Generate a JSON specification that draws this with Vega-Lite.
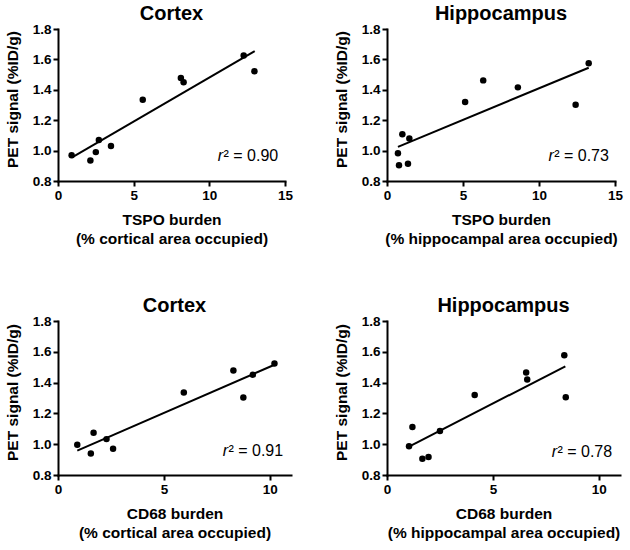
{
  "$schema": "https://vega.github.io/schema/vega-lite/v6.json",
  "background": "white",
  "padding": {"left": 5, "top": 4, "right": 5, "bottom": 5},
  "datasets": {
    "p1": [
      {"x": 0.9, "y": 0.97}, {"x": 2.14, "y": 0.935}, {"x": 2.5, "y": 0.99}, {"x": 2.7, "y": 1.07},
      {"x": 3.5, "y": 1.03}, {"x": 5.6, "y": 1.335}, {"x": 8.12, "y": 1.477}, {"x": 8.3, "y": 1.45},
      {"x": 12.27, "y": 1.625}, {"x": 12.98, "y": 1.522}
    ],
    "l1": [{"x": 0.93, "y": 0.955}, {"x": 13.0, "y": 1.655}],
    "p2": [
      {"x": 0.72, "y": 0.982}, {"x": 0.79, "y": 0.904}, {"x": 1.01, "y": 1.108}, {"x": 1.38, "y": 0.914},
      {"x": 1.47, "y": 1.079}, {"x": 5.14, "y": 1.319}, {"x": 6.33, "y": 1.462}, {"x": 8.61, "y": 1.416},
      {"x": 12.41, "y": 1.301}, {"x": 13.27, "y": 1.574}
    ],
    "l2": [{"x": 0.72, "y": 1.025}, {"x": 13.27, "y": 1.545}],
    "p3": [
      {"x": 0.91, "y": 0.997}, {"x": 1.55, "y": 0.94}, {"x": 1.68, "y": 1.074}, {"x": 2.29, "y": 1.033},
      {"x": 2.6, "y": 0.971}, {"x": 5.94, "y": 1.336}, {"x": 8.28, "y": 1.478}, {"x": 8.75, "y": 1.303},
      {"x": 9.2, "y": 1.451}, {"x": 10.22, "y": 1.524}
    ],
    "l3": [{"x": 0.91, "y": 0.958}, {"x": 10.22, "y": 1.516}],
    "p4": [
      {"x": 1.04, "y": 0.986}, {"x": 1.2, "y": 1.111}, {"x": 1.67, "y": 0.906}, {"x": 1.96, "y": 0.917},
      {"x": 2.5, "y": 1.085}, {"x": 4.14, "y": 1.32}, {"x": 6.57, "y": 1.465}, {"x": 6.62, "y": 1.42},
      {"x": 8.37, "y": 1.578}, {"x": 8.44, "y": 1.305}
    ],
    "l4": [{"x": 1.04, "y": 0.984}, {"x": 8.42, "y": 1.506}]
  },
  "columns": 2,
  "bounds": "flush",
  "spacing": {"row": 140, "column": 96},
  "concat": [
    {
      "width": 227, "height": 152,
      "title": "Cortex",
      "layer": [
        {"data": {"name": "p1"}, "mark": {"type": "point", "filled": true, "size": 42, "color": "black", "opacity": 1},
         "encoding": {
           "x": {"field": "x", "type": "quantitative", "scale": {"domain": [0, 15], "nice": false},
                 "axis": {"values": [0, 5, 10, 15], "format": "d", "labelOverlap": false, "title": ["TSPO burden", "(% cortical area occupied)"]}},
           "y": {"field": "y", "type": "quantitative", "scale": {"domain": [0.8, 1.8], "nice": false, "zero": false},
                 "axis": {"values": [0.8, 1.0, 1.2, 1.4, 1.6, 1.8], "tickCount": 20, "labelOverlap": false, "format": ".1f", "titleY": 70, "title": "PET signal (%ID/g)"}}}},
        {"data": {"name": "l1"}, "mark": {"type": "line", "color": "black", "strokeWidth": 2},
         "encoding": {"x": {"field": "x", "type": "quantitative"}, "y": {"field": "y", "type": "quantitative"}}},
        {"data": {"values": [{"t": "² = 0.90"}]}, "mark": {"type": "text", "align": "right", "baseline": "alphabetic", "font": "Liberation Sans", "fontSize": 16, "color": "black"},
         "encoding": {"x": {"datum": 14.55}, "y": {"datum": 0.93}, "text": {"field": "t"}}},
        {"data": {"values": [{"t": "r"}]}, "mark": {"type": "text", "align": "right", "baseline": "alphabetic", "font": "Liberation Sans", "fontSize": 16, "fontStyle": "italic", "color": "black", "dx": -55},
         "encoding": {"x": {"datum": 14.55}, "y": {"datum": 0.93}, "text": {"field": "t"}}}
      ]
    },
    {
      "width": 228, "height": 152,
      "title": "Hippocampus",
      "layer": [
        {"data": {"name": "p2"}, "mark": {"type": "point", "filled": true, "size": 42, "color": "black", "opacity": 1},
         "encoding": {
           "x": {"field": "x", "type": "quantitative", "scale": {"domain": [0, 15], "nice": false},
                 "axis": {"values": [0, 5, 10, 15], "format": "d", "labelOverlap": false, "title": ["TSPO burden", "(% hippocampal area occupied)"]}},
           "y": {"field": "y", "type": "quantitative", "scale": {"domain": [0.8, 1.8], "nice": false, "zero": false},
                 "axis": {"values": [0.8, 1.0, 1.2, 1.4, 1.6, 1.8], "tickCount": 20, "labelOverlap": false, "format": ".1f", "titleY": 70, "title": "PET signal (%ID/g)"}}}},
        {"data": {"name": "l2"}, "mark": {"type": "line", "color": "black", "strokeWidth": 2},
         "encoding": {"x": {"field": "x", "type": "quantitative"}, "y": {"field": "y", "type": "quantitative"}}},
        {"data": {"values": [{"t": "² = 0.73"}]}, "mark": {"type": "text", "align": "right", "baseline": "alphabetic", "font": "Liberation Sans", "fontSize": 16, "color": "black"},
         "encoding": {"x": {"datum": 14.6}, "y": {"datum": 0.93}, "text": {"field": "t"}}},
        {"data": {"values": [{"t": "r"}]}, "mark": {"type": "text", "align": "right", "baseline": "alphabetic", "font": "Liberation Sans", "fontSize": 16, "fontStyle": "italic", "color": "black", "dx": -55},
         "encoding": {"x": {"datum": 14.6}, "y": {"datum": 0.93}, "text": {"field": "t"}}}
      ]
    },
    {
      "width": 233, "height": 154,
      "title": "Cortex",
      "layer": [
        {"data": {"name": "p3"}, "mark": {"type": "point", "filled": true, "size": 42, "color": "black", "opacity": 1},
         "encoding": {
           "x": {"field": "x", "type": "quantitative", "scale": {"domain": [0, 11], "nice": false},
                 "axis": {"values": [0, 5, 10], "format": "d", "labelOverlap": false, "title": ["CD68 burden", "(% cortical area occupied)"]}},
           "y": {"field": "y", "type": "quantitative", "scale": {"domain": [0.8, 1.8], "nice": false, "zero": false},
                 "axis": {"values": [0.8, 1.0, 1.2, 1.4, 1.6, 1.8], "tickCount": 20, "labelOverlap": false, "format": ".1f", "titleY": 71, "title": "PET signal (%ID/g)"}}}},
        {"data": {"name": "l3"}, "mark": {"type": "line", "color": "black", "strokeWidth": 2},
         "encoding": {"x": {"field": "x", "type": "quantitative"}, "y": {"field": "y", "type": "quantitative"}}},
        {"data": {"values": [{"t": "² = 0.91"}]}, "mark": {"type": "text", "align": "right", "baseline": "alphabetic", "font": "Liberation Sans", "fontSize": 16, "color": "black"},
         "encoding": {"x": {"datum": 10.63}, "y": {"datum": 0.926}, "text": {"field": "t"}}},
        {"data": {"values": [{"t": "r"}]}, "mark": {"type": "text", "align": "right", "baseline": "alphabetic", "font": "Liberation Sans", "fontSize": 16, "fontStyle": "italic", "color": "black", "dx": -55},
         "encoding": {"x": {"datum": 10.63}, "y": {"datum": 0.926}, "text": {"field": "t"}}}
      ]
    },
    {
      "width": 233, "height": 154,
      "title": "Hippocampus",
      "layer": [
        {"data": {"name": "p4"}, "mark": {"type": "point", "filled": true, "size": 42, "color": "black", "opacity": 1},
         "encoding": {
           "x": {"field": "x", "type": "quantitative", "scale": {"domain": [0, 11], "nice": false},
                 "axis": {"values": [0, 5, 10], "format": "d", "labelOverlap": false, "title": ["CD68 burden", "(% hippocampal area occupied)"]}},
           "y": {"field": "y", "type": "quantitative", "scale": {"domain": [0.8, 1.8], "nice": false, "zero": false},
                 "axis": {"values": [0.8, 1.0, 1.2, 1.4, 1.6, 1.8], "tickCount": 20, "labelOverlap": false, "format": ".1f", "titleY": 71, "title": "PET signal (%ID/g)"}}}},
        {"data": {"name": "l4"}, "mark": {"type": "line", "color": "black", "strokeWidth": 2},
         "encoding": {"x": {"field": "x", "type": "quantitative"}, "y": {"field": "y", "type": "quantitative"}}},
        {"data": {"values": [{"t": "² = 0.78"}]}, "mark": {"type": "text", "align": "right", "baseline": "alphabetic", "font": "Liberation Sans", "fontSize": 16, "color": "black"},
         "encoding": {"x": {"datum": 10.63}, "y": {"datum": 0.918}, "text": {"field": "t"}}},
        {"data": {"values": [{"t": "r"}]}, "mark": {"type": "text", "align": "right", "baseline": "alphabetic", "font": "Liberation Sans", "fontSize": 16, "fontStyle": "italic", "color": "black", "dx": -55},
         "encoding": {"x": {"datum": 10.63}, "y": {"datum": 0.918}, "text": {"field": "t"}}}
      ]
    }
  ],
  "config": {
    "view": {"stroke": null},
    "axis": {
      "grid": false,
      "domainColor": "black", "domainWidth": 2, "domainCap": "square",
      "tickColor": "black", "tickWidth": 2, "tickSize": 5,
      "labelFont": "Liberation Sans", "labelFontSize": 13.5, "labelFontWeight": "bold", "labelColor": "black",
      "labelPadding": 2, "labelFlush": false, "labelOverlap": false,
      "titleFont": "Liberation Sans", "titleFontSize": 15.5, "titleFontWeight": "bold", "titleColor": "black"
    },
    "axisX": {"titlePadding": 11, "titleLineHeight": 19},
    "axisY": {"titlePadding": 12},
    "title": {"font": "Liberation Sans", "fontSize": 20, "fontWeight": "bold", "color": "black", "anchor": "middle", "frame": "group", "offset": -2}
  }
}
